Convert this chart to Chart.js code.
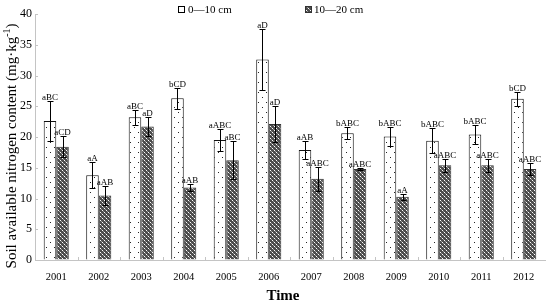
<!DOCTYPE html>
<html>
<head>
<meta charset="utf-8">
<script src="https://cdn.jsdelivr.net/npm/chart.js@4.4.1/dist/chart.umd.min.js"></script>
<style>
  html, body { margin: 0; padding: 0; background: #fff; }
</style>
</head>
<body>
<canvas id="chart" width="546" height="305"></canvas>
<script>
// soil available nitrogen by year, two depths

const years = ["2001", "2002", "2003", "2004", "2005", "2006", "2007", "2008", "2009", "2010", "2011", "2012"];
const depth0to10 = [22.6, 13.8, 23.2, 26.3, 19.5, 32.6, 17.9, 20.6, 20.1, 19.4, 20.4, 26.2];
const err0to10 = [3.2, 2.1, 1.2, 1.7, 1.8, 5.0, 1.5, 1.0, 1.6, 2.0, 1.6, 1.1];
const depth10to20 = [18.4, 10.5, 21.7, 11.8, 16.2, 22.1, 13.2, 14.8, 10.3, 15.4, 15.4, 14.8];
const err10to20 = [1.7, 1.5, 1.6, 0.5, 3.1, 2.9, 2.0, 0.2, 0.5, 1.1, 1.1, 1.0];
const letters0to10 = ["aBC", "aA", "aBC", "bCD", "aABC", "aD", "aAB", "bABC", "bABC", "bABC", "bABC", "bCD"];
const letters10to20 = ["aCD", "aAB", "aD", "aAB", "aBC", "aD", "aABC", "aABC", "aA", "aABC", "aABC", "aABC"];
const yTicks = [0, 5, 10, 15, 20, 25, 30, 35, 40];

const FONT = '"Liberation Serif", "Times New Roman", serif';
const canvas = document.getElementById("chart");
const ctx = canvas.getContext("2d");

// white with sparse dots
function dotPattern() {
  const c = document.createElement("canvas");
  c.width = 8; c.height = 10;
  const g = c.getContext("2d");
  g.fillStyle = "#fff";
  g.fillRect(0, 0, 8, 10);
  g.fillStyle = "#222";
  g.fillRect(2, 2, 1, 1);
  g.fillRect(6, 7, 1, 1);
  return ctx.createPattern(c, "repeat");
}

// dark lattice
function gridPattern() {
  const c = document.createElement("canvas");
  c.width = 4; c.height = 4;
  const g = c.getContext("2d");
  g.fillStyle = "#4c4c4c";
  g.fillRect(0, 0, 4, 4);
  g.fillStyle = "#ffffff";
  g.fillRect(0, 0, 1, 1);
  g.fillRect(2, 2, 1, 1);
  g.fillStyle = "#9a9a9a";
  g.fillRect(1, 1, 1, 1);
  g.fillRect(3, 3, 1, 1);
  return ctx.createPattern(c, "repeat");
}

const dots = dotPattern();
const lattice = gridPattern();

const errorBars = {
  id: "errorBars",
  afterDatasetsDraw(chart) {
    const c = chart.ctx;
    const y = chart.scales.y;
    c.save();
    c.strokeStyle = "#000";
    c.lineWidth = 1;
    c.fillStyle = "#000";
    c.font = "9px " + FONT;
    c.textAlign = "center";
    c.textBaseline = "alphabetic";
    chart.data.datasets.forEach((ds, i) => {
      chart.getDatasetMeta(i).data.forEach((bar, j) => {
        const v = ds.data[j], e = ds.errors[j];
        const top = Math.round(y.getPixelForValue(v + e)) + 0.5;
        const bot = Math.round(y.getPixelForValue(v - e)) + 0.5;
        const x = Math.round(bar.x) + 0.5;
        c.beginPath();
        c.moveTo(x, top); c.lineTo(x, bot);
        c.moveTo(x - 3, top); c.lineTo(x + 3, top);
        c.moveTo(x - 3, bot); c.lineTo(x + 3, bot);
        c.stroke();
        c.fillText(ds.letters[j], bar.x, top - 1.5);
      });
    });
    c.restore();
  }
};

const axisDecor = {
  id: "axisDecor",
  afterDraw(chart) {
    const c = chart.ctx;
    const { x, y } = chart.scales;
    const area = chart.chartArea;
    c.save();
    // inward ticks
    c.strokeStyle = "#c4c4c4";
    c.lineWidth = 1;
    c.beginPath();
    yTicks.forEach(t => {
      const py = Math.round(y.getPixelForValue(t)) + 0.5;
      c.moveTo(area.left, py); c.lineTo(area.left + 3, py);
    });
    const step = x.getPixelForTick(1) - x.getPixelForTick(0);
    for (let i = 1; i < years.length; i++) {
      const px = Math.round(x.getPixelForTick(i) - step / 2) + 0.5;
      c.moveTo(px, area.bottom); c.lineTo(px, area.bottom - 3);
    }
    c.stroke();

    // axis titles
    c.fillStyle = "#000";
    c.font = "bold 15px " + FONT;
    c.textAlign = "center";
    c.textBaseline = "middle";
    c.fillText("Time", 283, 296);

    c.translate(12, 146);
    c.rotate(-Math.PI / 2);
    const main = "Soil available nitrogen content (mg·kg";
    c.font = "15px " + FONT;
    const w1 = c.measureText(main).width;
    c.font = "10px " + FONT;
    const w2 = c.measureText("-1").width;
    c.font = "15px " + FONT;
    const w3 = c.measureText(")").width;
    let sx = -(w1 + w2 + w3) / 2;
    c.textAlign = "left";
    c.fillText(main, sx, 0);
    sx += w1;
    c.font = "10px " + FONT;
    c.fillText("-1", sx, -5);
    sx += w2;
    c.font = "15px " + FONT;
    c.fillText(")", sx, 0);
    c.restore();

    // legend
    c.save();
    c.font = "11px " + FONT;
    c.textBaseline = "middle";
    c.fillStyle = "#000";
    c.strokeStyle = "#000";
    c.lineWidth = 1;
    c.fillStyle = "#fff";
    c.fillRect(178.5, 6.5, 6, 6);
    c.strokeRect(178.5, 6.5, 6, 6);
    c.fillStyle = lattice;
    c.fillRect(305.5, 6.5, 6, 6);
    c.strokeStyle = "#333";
    c.strokeRect(305.5, 6.5, 6, 6);
    c.fillStyle = "#000";
    c.fillText("0—10 cm", 188, 10);
    c.fillText("10—20 cm", 314, 10);
    c.restore();
  }
};

new Chart(ctx, {
  type: "bar",
  data: {
    labels: years,
    datasets: [
      {
        label: "0—10 cm",
        data: depth0to10,
        errors: err0to10,
        letters: letters0to10,
        backgroundColor: dots,
        borderColor: "#111",
        borderWidth: 1
      },
      {
        label: "10—20 cm",
        data: depth10to20,
        errors: err10to20,
        letters: letters10to20,
        backgroundColor: lattice,
        borderColor: "#333",
        borderWidth: 1
      }
    ]
  },
  options: {
    responsive: false,
    animation: false,
    devicePixelRatio: 1,
    layout: { padding: { top: 14, right: 1, left: 0, bottom: 0 } },
    datasets: {
      bar: { categoryPercentage: 0.59, barPercentage: 1 }
    },
    plugins: {
      legend: { display: false },
      tooltip: { enabled: false }
    },
    scales: {
      x: {
        grid: { display: true, drawOnChartArea: false, drawTicks: false },
        border: { display: true, color: "#c4c4c4", width: 1 },
        ticks: { color: "#000", font: { family: FONT, size: 10.5 }, padding: 11, maxRotation: 0 },
        afterFit: (scale) => { scale.height = 45; }
      },
      y: {
        min: 0,
        max: 40,
        afterBuildTicks: (scale) => { scale.ticks = yTicks.map(v => ({ value: v })); },
        grid: { display: true, drawOnChartArea: false, drawTicks: false },
        border: { display: true, color: "#c4c4c4", width: 1 },
        ticks: { color: "#000", font: { family: FONT, size: 12 }, padding: 3 },
        afterFit: (scale) => { scale.width = 35; }
      }
    }
  },
  plugins: [errorBars, axisDecor]
});
</script>
</body>
</html>
